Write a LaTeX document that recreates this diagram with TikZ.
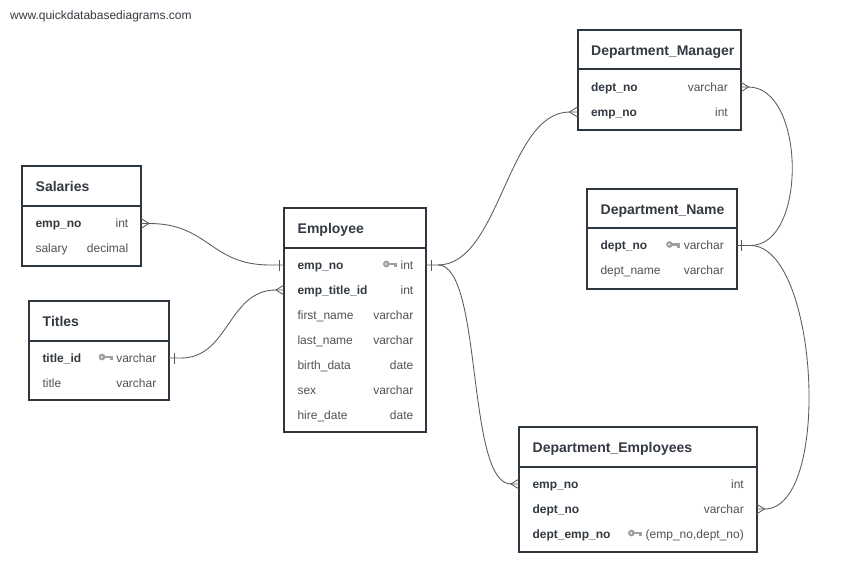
\documentclass[tikz,border=0pt]{standalone}
\usepackage{fontspec}
\setmainfont{Liberation Sans}
\usetikzlibrary{calc}
\definecolor{boxc}{HTML}{2E3640}
\definecolor{txtd}{HTML}{333A42}
\definecolor{txtl}{HTML}{4F5357}
\definecolor{keyc}{HTML}{A0A0A0}
\definecolor{linec}{HTML}{5A5A5A}
\tikzset{
 pics/keyico/.style={code={
  \fill[keyc] (-10.6,0) circle[radius=3.4];
  \fill[white] (-11,0) circle[radius=1.0];
  \fill[keyc] (-8,-1.3) rectangle (0,1.3);
  \fill[keyc] (-2.6,1.3) rectangle (0,3.3);
 }}
}
\newcommand\frow[7]{%
 \node[rowbox,minimum width=#3] (#1) at (#2.center |- 0,#4) {};
 \node[#5] (#1-n) at ([xshift=13.3pt,yshift=-4.4pt]#1.west) {#6};
 \node[ftype] (#1-t) at ([xshift=-12.5pt,yshift=-4.4pt]#1.east) {#7};
}
\newcommand\kfrow[7]{%
 \frow{#1}{#2}{#3}{#4}{#5}{#6}{#7}
 \coordinate (#1-k) at ($(#1-t.west |- #1.center)+(-3.5,-1)$);
 \pic at (#1-k) {keyico};
}
\newcommand\crowfoot[2]{\draw[conn] ([yshift=5pt]#1) -- ([xshift=#2*8pt]#1) -- ([yshift=-5pt]#1);}
\newcommand\onebar[2]{\draw[conn] ([xshift=#2*5pt,yshift=5.5pt]#1) -- ([xshift=#2*5pt,yshift=-5.5pt]#1);}
\begin{document}
\begin{tikzpicture}[x=1pt,y=-1pt,
 tbox/.style={draw=boxc,line width=2pt,fill=white,anchor=north west,inner sep=0,outer sep=0},
 divl/.style={draw=boxc,line width=2pt},
 hdr/.style={anchor=base west,inner sep=0,font=\fontsize{14}{16}\selectfont\bfseries,text=txtd},
 rowbox/.style={inner sep=0,outer sep=0,minimum height=25pt},
 fkey/.style={anchor=base west,inner sep=0,font=\fontsize{12}{14}\selectfont\bfseries,text=txtd},
 fname/.style={anchor=base west,inner sep=0,font=\fontsize{12}{14}\selectfont,text=txtl},
 ftype/.style={anchor=base east,inner sep=0,font=\fontsize{12}{14}\selectfont,text=txtl},
 conn/.style={draw=linec,line width=0.85pt},
 url/.style={anchor=base west,inner sep=0,font=\fontsize{12}{14}\selectfont,text=txtd},
]
\useasboundingbox[fill=white] (0,0) rectangle (846,588);

\node[url] (site) at (10,20) {www.quickdatabasediagrams.com};

% Salaries
\node[tbox,minimum width=119pt,minimum height=100pt] (sal) at (22,166) {};
\draw[divl] (sal.west |- 0,206) -- (sal.east |- 0,206);
\node[hdr] (sal-h) at (35.5,191.5) {Salaries};
\frow{sal-1}{sal}{119pt}{223.5}{fkey}{emp\_no}{int}
\frow{sal-2}{sal}{119pt}{248.5}{fname}{salary}{decimal}

% Employee
\node[tbox,minimum width=142pt,minimum height=224pt] (emp) at (284,208) {};
\draw[divl] (emp.west |- 0,248) -- (emp.east |- 0,248);
\node[hdr] (emp-h) at (297.5,233.5) {Employee};
\kfrow{emp-1}{emp}{142pt}{265}{fkey}{emp\_no}{int}
\frow{emp-2}{emp}{142pt}{290}{fkey}{emp\_title\_id}{int}
\frow{emp-3}{emp}{142pt}{315}{fname}{first\_name}{varchar}
\frow{emp-4}{emp}{142pt}{340}{fname}{last\_name}{varchar}
\frow{emp-5}{emp}{142pt}{365}{fname}{birth\_data}{date}
\frow{emp-6}{emp}{142pt}{390}{fname}{sex}{varchar}
\frow{emp-7}{emp}{142pt}{415}{fname}{hire\_date}{date}

% Titles
\node[tbox,minimum width=140pt,minimum height=99pt] (tit) at (29,301) {};
\draw[divl] (tit.west |- 0,341) -- (tit.east |- 0,341);
\node[hdr] (tit-h) at (42.5,326.5) {Titles};
\kfrow{tit-1}{tit}{140pt}{358}{fkey}{title\_id}{varchar}
\frow{tit-2}{tit}{140pt}{383}{fname}{title}{varchar}

% Department_Manager
\node[tbox,minimum width=163pt,minimum height=100pt] (dm) at (577.5,30) {};
\draw[divl] (dm.west |- 0,69.5) -- (dm.east |- 0,69.5);
\node[hdr] (dm-h) at (591,55.5) {Department\_Manager};
\frow{dm-1}{dm}{163pt}{87}{fkey}{dept\_no}{varchar}
\frow{dm-2}{dm}{163pt}{112}{fkey}{emp\_no}{int}

% Department_Name
\node[tbox,minimum width=149.5pt,minimum height=100pt] (dn) at (587,189) {};
\draw[divl] (dn.west |- 0,228.5) -- (dn.east |- 0,228.5);
\node[hdr] (dn-h) at (600.5,214.5) {Department\_Name};
\kfrow{dn-1}{dn}{149.5pt}{245.5}{fkey}{dept\_no}{varchar}
\frow{dn-2}{dn}{149.5pt}{270.5}{fname}{dept\_name}{varchar}

% Department_Employees
\node[tbox,minimum width=237.5pt,minimum height=125pt] (de) at (519,427) {};
\draw[divl] (de.west |- 0,467) -- (de.east |- 0,467);
\node[hdr] (de-h) at (532.5,452.5) {Department\_Employees};
\frow{de-1}{de}{237.5pt}{484}{fkey}{emp\_no}{int}
\frow{de-2}{de}{237.5pt}{509}{fkey}{dept\_no}{varchar}
\kfrow{de-3}{de}{237.5pt}{534}{fkey}{dept\_emp\_no}{(emp\_no,dept\_no)}

% Connectors
% Salaries.emp_no (many) -> Employee.emp_no (one)
\draw[conn] (sal-1.east) -- ([xshift=8pt]sal-1.east) .. controls +(60,0) and +(-60,0) .. ([xshift=-14pt]emp-1.west) -- (emp-1.west);
\crowfoot{sal-1.east}{1}
\onebar{emp-1.west}{-1}
% Titles.title_id (one) -> Employee.emp_title_id (many)
\draw[conn] (tit-1.east) -- ([xshift=12pt]tit-1.east) .. controls +(48,0) and +(-48,0) .. ([xshift=-8pt]emp-2.west) -- (emp-2.west);
\onebar{tit-1.east}{1}
\crowfoot{emp-2.west}{-1}
% Employee.emp_no (one) -> Department_Manager.emp_no (many)
\draw[conn] (emp-1.east) -- ([xshift=12pt]emp-1.east) .. controls +(62,0) and +(-62,0) .. ([xshift=-8pt]dm-2.west) -- (dm-2.west);
\crowfoot{dm-2.west}{-1}
% Employee.emp_no (one) -> Department_Employees.emp_no (many)
\draw[conn] ([xshift=12pt]emp-1.east) .. controls +(45,0) and +(-45,0) .. ([xshift=-8pt]de-1.west) -- (de-1.west);
\crowfoot{de-1.west}{-1}
\onebar{emp-1.east}{1}
% Department_Manager.dept_no (many) -> Department_Name.dept_no (one)
\draw[conn] (dm-1.east) -- ([xshift=8pt]dm-1.east) .. controls +(57,0) and +(57,0) .. ([xshift=14pt]dn-1.east) -- (dn-1.east);
\crowfoot{dm-1.east}{1}
\onebar{dn-1.east}{1}
% Department_Name.dept_no (one) -> Department_Employees.dept_no (many)
\draw[conn] ([xshift=14pt]dn-1.east) .. controls +(68,0) and +(68,0) .. ([xshift=8pt]de-2.east) -- (de-2.east);
\crowfoot{de-2.east}{1}
\end{tikzpicture}
\end{document}
